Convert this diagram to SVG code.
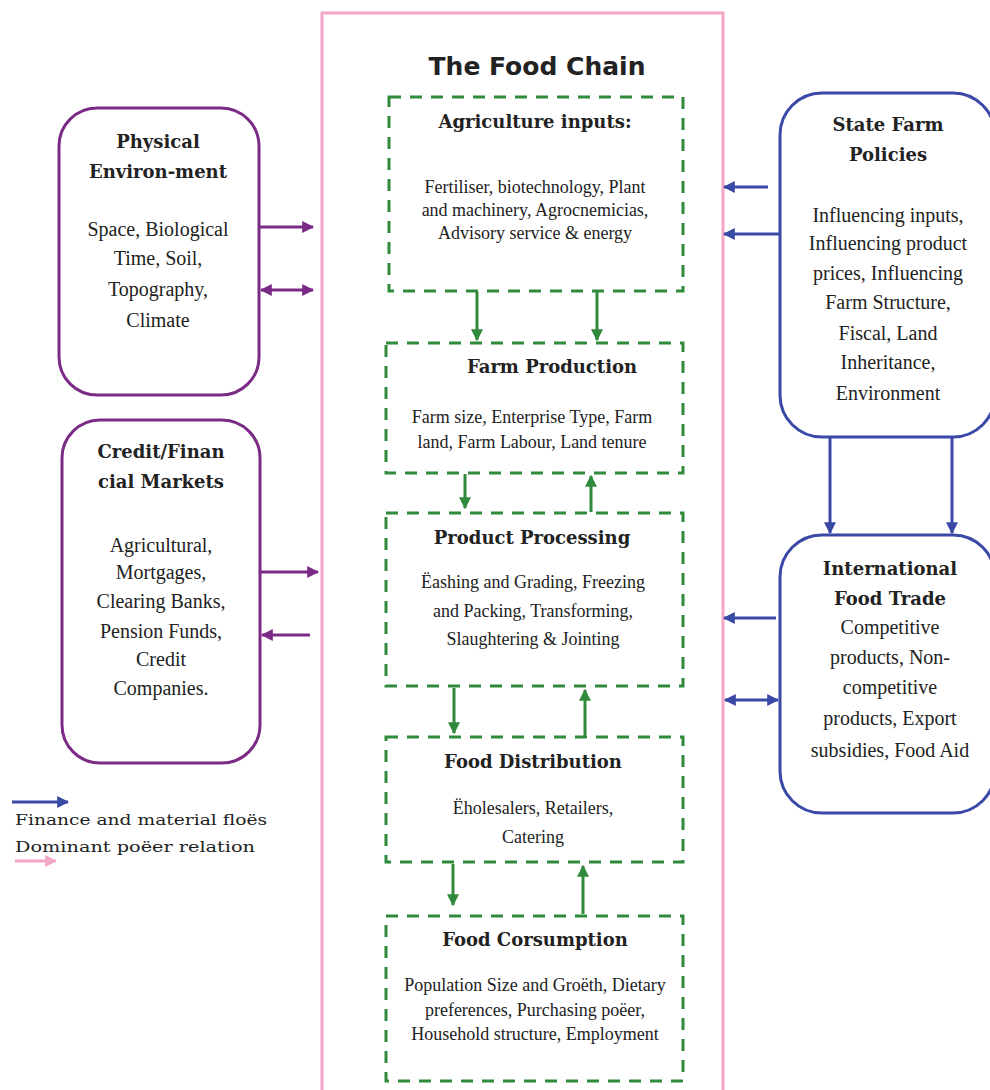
<svg xmlns="http://www.w3.org/2000/svg" width="990" height="1090" viewBox="0 0 990 1090">
<defs>
<style>
.frame{fill:none;stroke:#f2a6c8;stroke-width:3}
.pbox{fill:#fff;stroke:#7b2a85;stroke-width:3}
.bbox{fill:#fff;stroke:#3a48a6;stroke-width:3}
.gbox{fill:#fff;stroke:#2f8a3c;stroke-width:3;stroke-dasharray:12 9}
.pl{fill:none;stroke:#7b2a85;stroke-width:3}
.bl{fill:none;stroke:#3a48a6;stroke-width:3}
.gl{fill:none;stroke:#2f8a3c;stroke-width:3}
.kl{fill:none;stroke:#f2a6c8;stroke-width:3}
.h{font-family:"DejaVu Serif",serif;font-weight:bold;font-size:18px;fill:#222;text-anchor:middle}
.b{font-family:"Liberation Serif",serif;font-size:20px;fill:#222;text-anchor:middle}
.s{font-family:"Liberation Serif",serif;font-size:18px;fill:#222;text-anchor:middle}
.t{font-family:"DejaVu Sans",sans-serif;font-weight:bold;font-size:25px;fill:#222;text-anchor:middle}
.lg{font-family:"DejaVu Serif",serif;font-size:15px;fill:#222}
</style>
<marker id="ap" viewBox="0 0 10 10" refX="9" refY="5" markerWidth="4" markerHeight="4" orient="auto-start-reverse"><path d="M0,0 L10,5 L0,10 z" fill="#7b2a85"/></marker>
<marker id="ab" viewBox="0 0 10 10" refX="9" refY="5" markerWidth="4" markerHeight="4" orient="auto-start-reverse"><path d="M0,0 L10,5 L0,10 z" fill="#3a48a6"/></marker>
<marker id="ag" viewBox="0 0 10 10" refX="9" refY="5" markerWidth="4" markerHeight="4" orient="auto-start-reverse"><path d="M0,0 L10,5 L0,10 z" fill="#2f8a3c"/></marker>
<marker id="ak" viewBox="0 0 10 10" refX="9" refY="5" markerWidth="4" markerHeight="4" orient="auto-start-reverse"><path d="M0,0 L10,5 L0,10 z" fill="#f2a6c8"/></marker>
</defs>
<rect width="990" height="1090" fill="#fff"/>

<g id="food-chain-frame">
<rect class="frame" x="322" y="13" width="401" height="1090"/>
<text class="t" x="537" y="75">The Food Chain</text>
</g>

<g id="physical-environment">
<rect class="pbox" x="59" y="108" width="200" height="287" rx="38"/>
<text class="h" x="158" y="148">Physical</text>
<text class="h" x="158" y="178">Environ-ment</text>
<text class="b" x="158" y="236">Space, Biological</text>
<text class="b" x="158" y="265">Time, Soil,</text>
<text class="b" x="158" y="296">Topography,</text>
<text class="b" x="158" y="327">Climate</text>
</g>

<g id="credit-financial-markets">
<rect class="pbox" x="62" y="420" width="198" height="343" rx="38"/>
<text class="h" x="161" y="458">Credit/Finan</text>
<text class="h" x="161" y="488">cial Markets</text>
<text class="b" x="161" y="552">Agricultural,</text>
<text class="b" x="161" y="579">Mortgages,</text>
<text class="b" x="161" y="608">Clearing Banks,</text>
<text class="b" x="161" y="638">Pension Funds,</text>
<text class="b" x="161" y="666">Credit</text>
<text class="b" x="161" y="695">Companies.</text>
</g>

<g id="agriculture-inputs">
<rect class="gbox" x="389" y="97" width="294" height="194"/>
<text class="h" x="535" y="128">Agriculture inputs:</text>
<text class="s" x="535" y="193">Fertiliser, biotechnology, Plant</text>
<text class="s" x="535" y="216">and machinery, Agrocnemicias,</text>
<text class="s" x="535" y="239">Advisory service &amp; energy</text>
</g>

<g id="farm-production">
<rect class="gbox" x="386" y="343" width="297" height="130"/>
<text class="h" x="552" y="373">Farm Production</text>
<text class="s" x="532" y="423">Farm size, Enterprise Type, Farm</text>
<text class="s" x="532" y="448">land, Farm Labour, Land tenure</text>
</g>

<g id="product-processing">
<rect class="gbox" x="386" y="513" width="297" height="173"/>
<text class="h" x="532" y="544">Product Processing</text>
<text class="s" x="533" y="588">Ëashing and Grading, Freezing</text>
<text class="s" x="533" y="617">and Packing, Transforming,</text>
<text class="s" x="533" y="645">Slaughtering &amp; Jointing</text>
</g>

<g id="food-distribution">
<rect class="gbox" x="386" y="737" width="297" height="125"/>
<text class="h" x="533" y="768">Food Distribution</text>
<text class="s" x="533" y="814">Ëholesalers, Retailers,</text>
<text class="s" x="533" y="843">Catering</text>
</g>

<g id="food-consumption">
<rect class="gbox" x="386" y="916" width="297" height="165"/>
<text class="h" x="535" y="946">Food Corsumption</text>
<text class="s" x="535" y="991" font-size="17">Population Size and Groëth, Dietary</text>
<text class="s" x="535" y="1016" font-size="17">preferences, Purchasing poëer,</text>
<text class="s" x="535" y="1040" font-size="17">Household structure, Employment</text>
</g>

<g id="state-farm-policies">
<rect class="bbox" x="780" y="93" width="215" height="344" rx="42"/>
<text class="h" x="888" y="131">State Farm</text>
<text class="h" x="888" y="161">Policies</text>
<text class="b" x="888" y="222">Influencing inputs,</text>
<text class="b" x="888" y="250">Influencing product</text>
<text class="b" x="888" y="280">prices, Influencing</text>
<text class="b" x="888" y="309">Farm Structure,</text>
<text class="b" x="888" y="340">Fiscal, Land</text>
<text class="b" x="888" y="369">Inheritance,</text>
<text class="b" x="888" y="400">Environment</text>
</g>

<g id="international-food-trade">
<rect class="bbox" x="780" y="535" width="215" height="278" rx="42"/>
<text class="h" x="890" y="575">International</text>
<text class="h" x="890" y="605">Food Trade</text>
<text class="b" x="890" y="634">Competitive</text>
<text class="b" x="890" y="664">products, Non-</text>
<text class="b" x="890" y="694">competitive</text>
<text class="b" x="890" y="725">products, Export</text>
<text class="b" x="890" y="757">subsidies, Food Aid</text>
</g>

<g id="legend">
<line class="bl" x1="12" y1="802" x2="68" y2="802" marker-end="url(#ab)"/>
<text class="lg" x="15" y="825" textLength="252" lengthAdjust="spacingAndGlyphs">Finance and material floës</text>
<text class="lg" x="15" y="852" textLength="240" lengthAdjust="spacingAndGlyphs">Dominant poëer relation</text>
<line class="kl" x1="15" y1="861" x2="56" y2="861" marker-end="url(#ak)"/>
</g>

<g id="connectors">
<line class="pl" x1="260" y1="227" x2="313" y2="227" marker-end="url(#ap)"/>
<line class="pl" x1="261" y1="290" x2="313" y2="290" marker-start="url(#ap)" marker-end="url(#ap)"/>
<line class="pl" x1="261" y1="572" x2="318" y2="572" marker-end="url(#ap)"/>
<line class="pl" x1="310" y1="635" x2="262" y2="635" marker-end="url(#ap)"/>

<line class="bl" x1="768" y1="187" x2="724" y2="187" marker-end="url(#ab)"/>
<line class="bl" x1="779" y1="234" x2="724" y2="234" marker-end="url(#ab)"/>
<line class="bl" x1="830" y1="438" x2="830" y2="533" marker-end="url(#ab)"/>
<line class="bl" x1="952" y1="438" x2="952" y2="533" marker-end="url(#ab)"/>
<line class="bl" x1="776" y1="618" x2="724" y2="618" marker-end="url(#ab)"/>
<line class="bl" x1="725" y1="700" x2="778" y2="700" marker-start="url(#ab)" marker-end="url(#ab)"/>

<line class="gl" x1="477" y1="292" x2="477" y2="340" marker-end="url(#ag)"/>
<line class="gl" x1="597" y1="292" x2="597" y2="340" marker-end="url(#ag)"/>
<line class="gl" x1="465" y1="474" x2="465" y2="508" marker-end="url(#ag)"/>
<line class="gl" x1="591" y1="512" x2="591" y2="476" marker-end="url(#ag)"/>
<line class="gl" x1="454" y1="688" x2="454" y2="733" marker-end="url(#ag)"/>
<line class="gl" x1="585" y1="736" x2="585" y2="690" marker-end="url(#ag)"/>
<line class="gl" x1="453" y1="864" x2="453" y2="905" marker-end="url(#ag)"/>
<line class="gl" x1="583" y1="914" x2="583" y2="866" marker-end="url(#ag)"/>
</g>
</svg>
